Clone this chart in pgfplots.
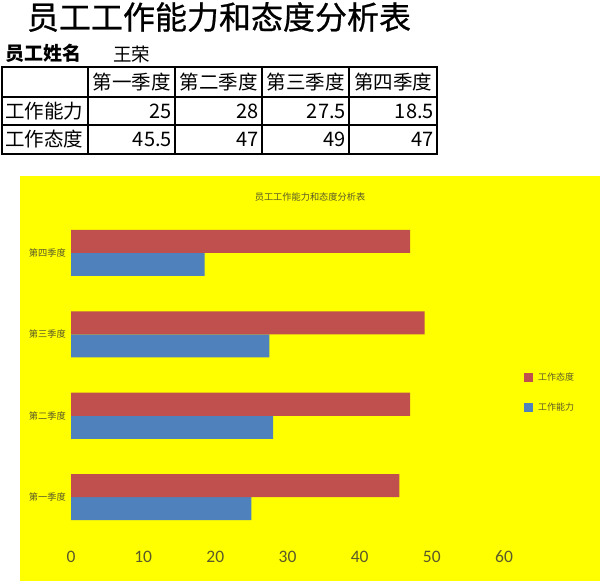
\documentclass[border=0pt]{standalone}
\usepackage{pgfplots}
\pgfplotsset{compat=1.18}
\usepackage{fontspec}
\newfontfamily\cjk{Noto Sans CJK SC}
\newfontfamily\cjkfb{Noto Sans CJK SC}[FakeBold=0.7]
\newfontfamily\calib{Carlito}
\definecolor{exred}{HTML}{C0504D}
\definecolor{exblue}{HTML}{4F81BD}
\definecolor{lbl}{HTML}{5A5A2A}
\definecolor{chartbg}{HTML}{FFFF00}
\begin{document}
\begin{tikzpicture}[x=1pt,y=1pt]
\path[use as bounding box] (0,0) rectangle (600,581);
\fill[white] (0,0) rectangle (600,581);
% sheet title
\node[font=\cjkfb\fontsize{32}{36}\selectfont, anchor=center, inner sep=0pt] at (219,564) {员工工作能力和态度分析表};
\node[font=\cjk\bfseries\fontsize{19}{22}\selectfont, anchor=west, inner sep=0pt] at (5,528) {员工姓名};
\node[font=\cjk\fontsize{18.5}{22}\selectfont, anchor=west, inner sep=0pt] at (113,527) {王荣};
% table grid
\draw[line width=1.6pt] (2,514) rectangle (437,427);
\foreach \x in {88,175,262,349} \draw[line width=1.6pt] (\x,514) -- (\x,427);
\draw[line width=1.6pt] (2,484) -- (437,484);
\draw[line width=1.6pt] (2,456) -- (437,456);
% header
\begin{scope}[every node/.style={font=\cjk\fontsize{19.5}{22}\selectfont, inner sep=0pt}]
\node at (131.5,499) {第一季度};
\node at (218.5,499) {第二季度};
\node at (305.5,499) {第三季度};
\node at (393,499) {第四季度};
\node[anchor=west] at (5,470) {工作能力};
\node[anchor=west] at (5,441.5) {工作态度};
\end{scope}
\begin{scope}[every node/.style={font=\cjk\fontsize{20}{22}\selectfont, inner sep=0pt, anchor=east}]
\node at (172,470) {25};
\node at (259,470) {28};
\node at (346,470) {27.5};
\node at (434,470) {18.5};
\node at (172,441.5) {45.5};
\node at (259,441.5) {47};
\node at (346,441.5) {49};
\node at (434,441.5) {47};
\end{scope}
% chart area
\fill[chartbg] (20,0) rectangle (600,405);
\node[font=\cjk\fontsize{9.2}{10}\selectfont, text=lbl, inner sep=0pt] at (310,384) {员工工作能力和态度分析表};
\begin{axis}[
  at={(71pt,43pt)}, anchor=south west, scale only axis,
  width=433pt, height=326pt,
  xmin=0, xmax=60, ymin=-0.5, ymax=3.5,
  xbar, bar width=23pt,
  xtick={0,10,20,30,40,50,60},
  ytick={0,1,2,3},
  yticklabels={第一季度,第二季度,第三季度,第四季度},
  axis line style={draw=none},
  major tick length=0pt, tick style={draw=none},
  /pgf/number format/assume math mode=true,
  xticklabel style={font=\calib\fontsize{17.5}{20}\selectfont, text=lbl, anchor=center, yshift=-19pt},
  yticklabel style={font=\cjk\fontsize{9.2}{10}\selectfont, text=lbl, anchor=east, inner sep=0pt, xshift=-5pt},
  legend image code/.code={\path[#1, draw=none] (0pt,-4.5pt) rectangle (9pt,4.5pt);},
  reverse legend,
  legend style={draw=none, fill=none, at={(axis description cs:1.046,0.506)}, anchor=north west,
    inner sep=0pt, row sep=21pt,
    nodes={inner sep=0pt, font=\cjk\fontsize{9}{10}\selectfont, text=lbl}},
  legend cell align=left,
]
\addplot[fill=exblue, draw=none, bar shift=-11.5pt] coordinates {(25,0) (28,1) (27.5,2) (18.5,3)};
\addlegendentry{\hspace{5pt}工作能力}
\addplot[fill=exred, draw=none, bar shift=11.5pt] coordinates {(45.5,0) (47,1) (49,2) (47,3)};
\addlegendentry{\hspace{5pt}工作态度}
\end{axis}
\end{tikzpicture}
\end{document}
